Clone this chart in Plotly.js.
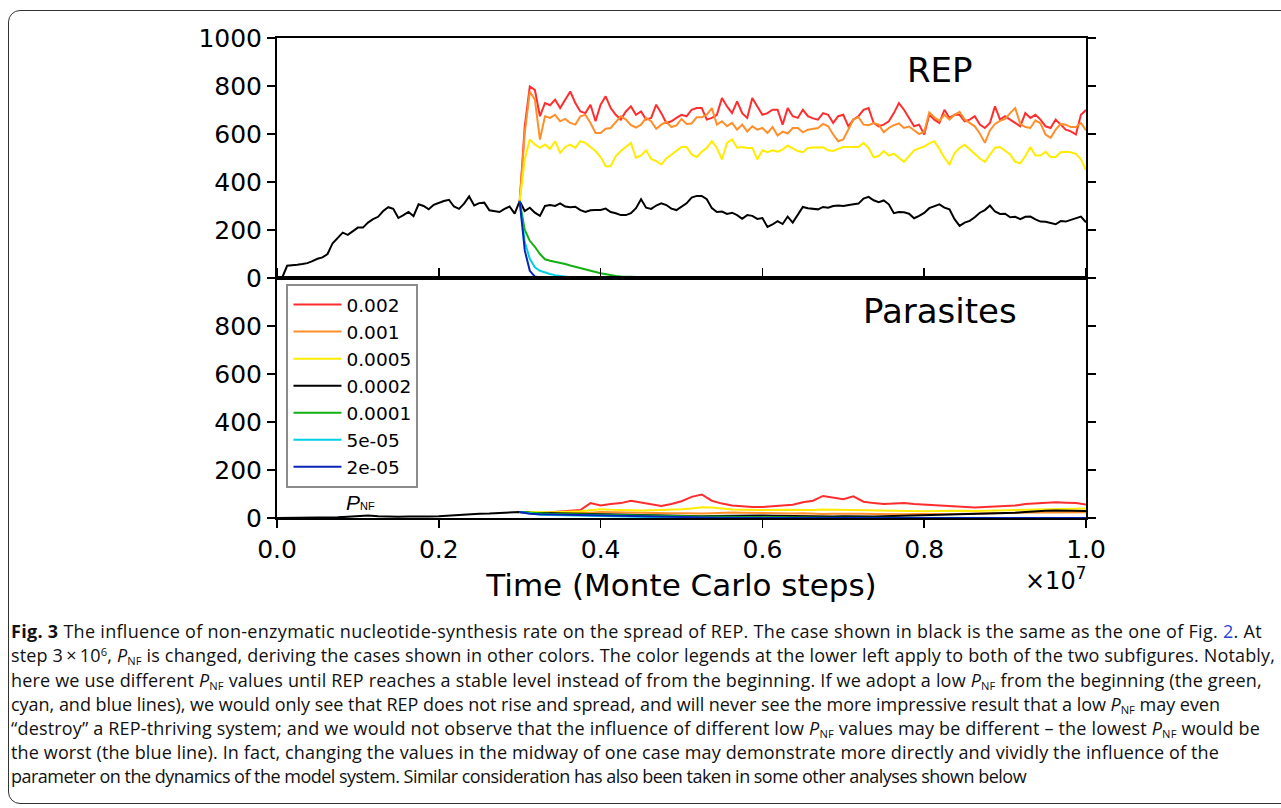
<!DOCTYPE html>
<html>
<head>
<meta charset="utf-8">
<script src="https://cdn.plot.ly/plotly-3.0.1.min.js"></script>
<style>
  html, body { margin: 0; padding: 0; background: #fff; }
  #chart { position: absolute; left: 0; top: 0; width: 1281px; height: 808px; }
  #frame { position: absolute; left: 8px; top: 10px; width: 1300px; height: 794px; box-sizing: border-box;
           border: 1.5px solid #333; border-radius: 12px; pointer-events: none; }
  .cap { position: absolute; left: 11px; font-family: "Open Sans", "Noto Sans", sans-serif; font-size: 18px;
         line-height: 24px; white-space: nowrap; color: #111; }
  .cap sub { font-size: 0.62em; vertical-align: -0.25em; line-height: 0; }
  .cap sup { font-size: 0.62em; vertical-align: 0.55em; line-height: 0; }
  .lnk { color: #2a45d8; }
</style>
</head>
<body>
<div id="chart"></div>
<div id="frame"></div>
<div class="cap" data-right="1262" style="top:619px"><b>Fig. 3</b> The influence of non-enzymatic nucleotide-synthesis rate on the spread of REP. The case shown in black is the same as the one of Fig. <span class="lnk">2</span>. At</div>
<div class="cap" data-right="1275" style="top:643px">step 3&#8201;×&#8201;10<sup>6</sup>, <i>P</i><sub>NF</sub> is changed, deriving the cases shown in other colors. The color legends at the lower left apply to both of the two subfigures. Notably,</div>
<div class="cap" data-right="1262" style="top:668px">here we use different <i>P</i><sub>NF</sub> values until REP reaches a stable level instead of from the beginning. If we adopt a low <i>P</i><sub>NF</sub> from the beginning (the green,</div>
<div class="cap" data-right="1220" style="top:692px">cyan, and blue lines), we would only see that REP does not rise and spread, and will never see the more impressive result that a low <i>P</i><sub>NF</sub> may even</div>
<div class="cap" data-right="1260" style="top:716px">“destroy” a REP-thriving system; and we would not observe that the influence of different low <i>P</i><sub>NF</sub> values may be different – the lowest <i>P</i><sub>NF</sub> would be</div>
<div class="cap" data-right="1219" style="top:740px">the worst (the blue line). In fact, changing the values in the midway of one case may demonstrate more directly and vividly the influence of the</div>
<div class="cap" data-right="1026" style="top:764px">parameter on the dynamics of the model system. Similar consideration has also been taken in some other analyses shown below</div>
<script>
// ---------------- data (time in units of 1e7 Monte Carlo steps) ----------------
const SWITCH_T = 0.3;      // time at which P_NF is changed
const REP_STEP = 0.00625;  // sampling interval of the REP readings
const PAR_STEP = 0.0125;   // sampling interval of the parasite readings

const seriesNames = ['0.002', '0.001', '0.0005', '0.0002', '0.0001', '5e-05', '2e-05'];

// REP counts (top panel); black runs from t=0, others from t=SWITCH_T
const repRed = [320,632,798,784,674,729,720,743,708,743,777,729,694,687,722,653,722,757,708,680,660,694,715,680,694,660,667,722,687,646,653,667,680,674,701,708,708,660,667,680,750,715,687,736,687,667,750,715,680,687,701,701,639,708,674,667,701,674,665,660,687,680,646,674,680,632,660,674,701,708,646,632,639,653,687,729,701,667,632,639,598,680,660,646,701,667,680,680,653,660,674,639,625,646,715,660,674,660,646,632,687,667,680,660,632,625,660,639,618,611,598,680,700];
const repOrange = [320,604,777,743,577,674,667,680,653,663,646,639,674,680,646,604,604,622,625,650,674,660,637,627,639,667,653,622,639,651,629,636,663,642,644,670,670,680,708,639,653,632,646,618,639,611,632,618,625,604,629,594,610,602,625,625,607,618,622,625,642,632,598,570,577,618,660,670,639,637,646,639,607,625,637,644,625,631,615,600,609,690,670,655,680,660,680,692,660,646,632,602,563,615,642,655,663,687,708,642,629,625,657,644,598,584,618,642,639,629,629,646,615];
const repYellow = [320,494,577,556,542,556,538,570,521,546,556,542,570,563,546,529,504,466,466,508,529,546,563,501,511,532,496,487,473,498,515,531,546,546,515,504,526,542,570,542,494,563,577,543,546,542,542,494,532,524,532,526,535,552,540,529,524,542,544,546,545,532,529,538,546,546,545,546,563,542,503,508,529,510,518,501,484,508,532,540,548,561,570,538,501,473,521,542,555,536,515,498,484,515,543,546,532,515,484,478,508,546,510,510,526,504,504,524,526,524,517,494,450];
const repBlack = [0,0,51,52,55,58,62,70,80,86,100,145,168,189,180,194,210,210,231,245,255,279,295,288,250,262,275,258,307,300,286,305,314,321,326,298,288,310,340,302,312,314,282,278,275,288,298,268,
  320,279,293,272,259,300,304,300,311,298,295,297,283,275,282,283,283,289,275,270,262,262,270,291,328,293,288,302,311,304,289,283,296,311,335,342,342,328,291,275,277,267,272,262,247,262,259,246,250,213,223,237,225,256,231,266,296,291,290,
  286,296,293,300,302,300,302,307,310,331,338,324,316,323,307,270,275,274,268,249,259,271,291,300,307,293,286,245,217,231,238,253,272,283,302,277,267,268,253,255,245,255,256,244,235,234,228,224,237,235,242,249,256,232];
const repGreen = [320,200,155,130,100,78,72,68,62,58,52,46,42,36,30,25,20,15,11,8,6,5,4,3,3,2,2,1,1,1,
  0,0,0,0,0,0,0,0,0,0, 0,0,0,0,0,0,0,0,0,0, 0,0,0,0,0,0,0,0,0,0, 0,0,0,0,0,0,0,0,0,0,
  0,0,0,0,0,0,0,0,0,0, 0,0,0,0,0,0,0,0,0,0, 0,0,0,0,0,0,0,0,0,0, 0,0,0,0,0,0,0,0,0,0, 0,0,0];
const repCyan = [320,150,80,45,30,22,17,12,8,5,3,2,1,
  0,0,0,0,0,0,0,0,0,0, 0,0,0,0,0,0,0,0,0,0, 0,0,0,0,0,0,0,0,0,0, 0,0,0,0,0,0,0,0,0,0, 0,0,0,0,0,0,0,0,0,0,
  0,0,0,0,0,0,0,0,0,0, 0,0,0,0,0,0,0,0,0,0, 0,0,0,0,0,0,0,0,0,0, 0,0,0,0,0,0,0,0,0,0, 0,0,0,0,0,0,0,0,0,0];
const repBlue = [320,115,30,6,1,
  0,0,0,0,0,0,0,0,0,0, 0,0,0,0,0,0,0,0,0,0, 0,0,0,0,0,0,0,0,0,0, 0,0,0,0,0,0,0,0,0,0, 0,0,0,0,0,0,0,0,0,0,
  0,0,0,0,0,0,0,0,0,0, 0,0,0,0,0,0,0,0,0,0, 0,0,0,0,0,0,0,0,0,0, 0,0,0,0,0,0,0,0,0,0, 0,0,0,0,0,0,0,0,0,0, 0,0,0,0,0,0,0,0];

// Parasite counts (bottom panel)
const parRed = [25,22,20,24,27,29,33,62,52,58,62,72,64,56,50,58,70,88,98,72,60,52,48,46,46,48,50,55,66,72,92,84,78,90,68,62,58,60,62,58,56,55,52,50,48,44,46,47,48,52,58,60,64,66,64,62,56];
const parOrange = [25,23,22,21,22,21,20,22,25,24,22,21,20,20,21,20,20,18,19,20,22,23,22,21,20,19,18,19,20,18,17,18,19,20,18,17,16,15,16,17,18,17,16,17,18,19,20,21,22,23,24,25,24,23,24,25,24];
const parYellow = [25,24,22,24,25,26,28,32,36,34,32,30,31,32,33,34,36,40,45,44,38,35,34,33,32,33,34,33,32,33,35,34,33,32,31,30,30,31,30,29,28,29,30,31,30,29,30,31,33,35,36,37,38,40,40,39,40];
const parBlack = [0,0,0,0,1,2,3,5,8,10,7,5,5,6,5,6,7,10,14,16,18,19,21,23,25,
  22,21,20,21,19,18,18,17,16,15,14,13,12,11,10,8,7,7,8,9,10,10,9,10,9,8,9,8,7,7,6,7,6,5,6,7,8,9,10,11,12,13,14,15,16,17,18,20,22,25,29,30,31,30,31,29];
const parGreen = [25,22,20,18,17,16,16,15,16,15,14,13,12,11,10,9,8,7,6,6,5,5,4,4,3,3,3,2,2,2,2,1,1,1,1,1,
  0,0,0,0,0,0,0,0,0,0, 0,0,0,0,0,0,0,0,0,0, 0];
const parCyan = [25,18,14,12,11,10,9,8,7,6,5,4,3,3,2,2,1,1,
  0,0,0,0,0,0,0,0,0,0, 0,0,0,0,0,0,0,0,0,0, 0,0,0,0,0,0,0,0,0,0, 0,0,0,0,0,0,0,0,0];
const parBlue = [25,18,16,15,14,13,12,11,10,9,8,8,7,6,5,4,3,3,2,2,1,1,
  0,0,0,0,0,0,0,0,0,0, 0,0,0,0,0,0,0,0,0,0, 0,0,0,0,0,0,0,0,0,0, 0,0,0,0,0];

const xTickVals = [0, 0.2, 0.4, 0.6, 0.8, 1.0];
const xTickText = ['0.0', '0.2', '0.4', '0.6', '0.8', '1.0'];
const repTickVals = [0, 200, 400, 600, 800, 1000];
const parTickVals = [0, 200, 400, 600, 800];

// ---------------- styling ----------------
const lineColors = ['#ff2d2d', '#ff8f2a', '#ffec00', '#000000', '#12b012', '#00d0e4', '#0a24b8'];
const repData = [repRed, repOrange, repYellow, repBlack, repGreen, repCyan, repBlue];
const parData = [parRed, parOrange, parYellow, parBlack, parGreen, parCyan, parBlue];
const startsAtZero = [false, false, false, true, false, false, false];

function grid(start, step, n) {
  return Array.from({length: n}, (_, i) => +(start + i * step).toFixed(6));
}

const traces = [];
repData.forEach((ys, k) => {
  traces.push({
    type: 'scatter', mode: 'lines', name: seriesNames[k],
    x: grid(startsAtZero[k] ? 0 : SWITCH_T, REP_STEP, ys.length), y: ys,
    xaxis: 'x', yaxis: 'y',
    line: {color: lineColors[k], width: 2},
    showlegend: true, legendgroup: 'g' + k, hoverinfo: 'skip'
  });
});
parData.forEach((ys, k) => {
  traces.push({
    type: 'scatter', mode: 'lines', name: seriesNames[k],
    x: grid(startsAtZero[k] ? 0 : SWITCH_T, PAR_STEP, ys.length), y: ys,
    xaxis: 'x2', yaxis: 'y2',
    line: {color: lineColors[k], width: 2},
    showlegend: false, legendgroup: 'g' + k, hoverinfo: 'skip'
  });
});

const axisCommon = {
  showline: true, linecolor: '#000', linewidth: 2, showgrid: false, zeroline: false,
  ticks: 'outside', ticklen: 8, tickwidth: 1.5, tickcolor: '#000', layer: 'below traces',
  tickfont: {family: 'DejaVu Sans', size: 25, color: '#000'}
};

const layout = {
  width: 1281, height: 808,
  margin: {l: 277, r: 195, t: 38, b: 290},
  paper_bgcolor: '#fff', plot_bgcolor: '#fff',
  font: {family: 'DejaVu Sans', color: '#000'},
  showlegend: true,
  xaxis: Object.assign({}, axisCommon, {domain: [0, 1], range: [0, 1], anchor: 'y', mirror: true,
    ticks: '', showticklabels: false}),
  yaxis: Object.assign({}, axisCommon, {domain: [0.5, 1], range: [0, 1000], anchor: 'x',
    tickvals: repTickVals, mirror: 'ticks'}),
  xaxis2: Object.assign({}, axisCommon, {domain: [0, 1], range: [0, 1], anchor: 'y2', mirror: 'ticks',
    tickvals: xTickVals, ticktext: xTickText,
    title: {text: 'Time (Monte Carlo steps)', font: {family: 'DejaVu Sans', size: 31, color: '#000'}, standoff: 11}}),
  yaxis2: Object.assign({}, axisCommon, {domain: [0, 0.5], range: [0, 1000], anchor: 'x2',
    tickvals: parTickVals, mirror: 'ticks'}),
  legend: {x: 0.0117, y: 0.4875, xanchor: 'left', yanchor: 'top', bgcolor: '#fff',
    bordercolor: '#8c8c8c', borderwidth: 2, font: {family: 'DejaVu Sans', size: 18.5, color: '#000'},
    tracegroupgap: 0, itemwidth: 48},
  annotations: [
    {text: 'REP', xref: 'x', yref: 'y', x: 0.819, y: 868, showarrow: false,
     font: {family: 'DejaVu Sans', size: 34, color: '#000'}},
    {text: 'Parasites', xref: 'x2', yref: 'y2', x: 0.819, y: 864, showarrow: false,
     font: {family: 'DejaVu Sans', size: 34, color: '#000'}},
    {text: '×10<sup>7</sup>', xref: 'paper', yref: 'paper', x: 1.002, y: -0.127,
     xanchor: 'right', yanchor: 'middle', showarrow: false,
     font: {family: 'DejaVu Sans', size: 24, color: '#000'}},
    {text: '<i>P</i><span style="font-size:11px">NF</span>', xref: 'paper', yref: 'paper',
     x: 0.083, y: 0.033, xanchor: 'left', yanchor: 'middle', showarrow: false,
     font: {family: 'Liberation Sans', size: 21, color: '#000'}}
  ]
};

Plotly.newPlot('chart', traces, layout, {staticPlot: true, displayModeBar: false});

// fit each caption line to the reference line length with a small letter-spacing tweak
function fitCaption() {
  document.querySelectorAll('.cap').forEach(el => {
    el.style.letterSpacing = '0px';
    const box = el.getBoundingClientRect();
    const target = parseFloat(el.dataset.right) - box.left;
    const chars = el.textContent.length;
    const ls = Math.max(-0.6, Math.min(0.9, (target - box.width) / chars));
    el.style.letterSpacing = ls.toFixed(3) + 'px';
  });
}
fitCaption();
if (document.fonts && document.fonts.ready) document.fonts.ready.then(fitCaption);
</script>
</body>
</html>
